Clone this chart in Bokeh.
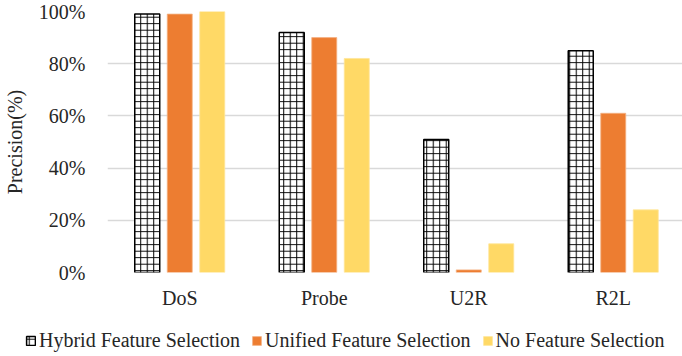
from bokeh.plotting import figure
from bokeh.layouts import column
from bokeh.models import (ColumnDataSource, FactorRange, NumeralTickFormatter, Legend, LegendItem,
                          FixedTicker, Range1d)
from bokeh.transform import dodge
from bokeh.embed import file_html
from bokeh.resources import INLINE

categories = ["DoS", "Probe", "U2R", "R2L"]
hybrid = [0.99, 0.92, 0.51, 0.85]
unified = [0.99, 0.90, 0.01, 0.61]
no_fs = [1.00, 0.82, 0.11, 0.24]
series_names = ["Hybrid Feature Selection", "Unified Feature Selection", "No Feature Selection"]
series_cols = ["hybrid", "unified", "no_fs"]
y_ticks = [0, 0.2, 0.4, 0.6, 0.8, 1.0]

src = ColumnDataSource(dict(cat=categories, hybrid=hybrid, unified=unified, no_fs=no_fs))

FONT = "Liberation Serif"
TXT = "#262626"
FS = "20px"

STYLES = [
    dict(fill_color="white", line_color="black", line_width=1.5,
         hatch_pattern="+", hatch_color="black", hatch_scale=6.5, hatch_weight=1),
    dict(fill_color="#ED7D31", line_color="#F4B183", line_width=0.8),
    dict(fill_color="#FFD966", line_color="#FFE699", line_width=0.8),
]

p = figure(frame_width=578, frame_height=261, x_range=FactorRange(*categories), y_range=(0, 1.0),
           output_backend="svg", toolbar_location=None,
           min_border_left=104, min_border_right=0, min_border_top=11, min_border_bottom=38)
p.outline_line_color = None
p.background_fill_color = "white"

bw = 0.173
offsets = [-0.225, 0.0, 0.225]
for col, st, o in zip(series_cols, STYLES, offsets):
    p.vbar(x=dodge("cat", o, range=p.x_range), top=col, width=bw, source=src, **st)

p.xgrid.grid_line_color = None
p.ygrid.grid_line_color = "#D9D9D9"
p.ygrid.grid_line_width = 1.5
p.yaxis.ticker = FixedTicker(ticks=y_ticks)
p.yaxis.formatter = NumeralTickFormatter(format="0%")

for ax in (p.xaxis[0], p.yaxis[0]):
    ax.axis_line_color = None
    ax.major_tick_line_color = None
    ax.minor_tick_line_color = None
    ax.major_label_text_font = FONT
    ax.major_label_text_font_size = FS
    ax.major_label_text_color = TXT

p.xaxis.major_label_standoff = 8
p.yaxis.major_label_standoff = 16
p.yaxis.axis_label = "Precision(%)"
p.yaxis.axis_label_text_font = FONT
p.yaxis.axis_label_text_font_size = FS
p.yaxis.axis_label_text_font_style = "normal"
p.yaxis.axis_label_text_color = TXT
p.yaxis.axis_label_standoff = 10

# legend strip below the chart (its bars lie outside its y range, only the legend shows)
lg = figure(width=682, height=46, x_range=FactorRange(*categories), y_range=Range1d(2, 3),
            output_backend="svg", toolbar_location=None,
            x_axis_location=None, y_axis_location=None,
            min_border=0, min_border_left=0, min_border_right=0, min_border_top=0, min_border_bottom=0)
lg.outline_line_color = None
lg.xgrid.grid_line_color = None
lg.ygrid.grid_line_color = None
items = []
for name, col, st in zip(series_names, series_cols, STYLES):
    r = lg.vbar(x="cat", top=col, width=0.1, source=src, **st)
    items.append(LegendItem(label=name, renderers=[r]))

for fig in (p, lg):
    try:
        fig.frame_align = False
    except Exception:
        pass

legend = Legend(items=items, orientation="horizontal", location=(25, 5))
legend.label_text_font = FONT
legend.label_text_font_size = FS
legend.label_text_color = TXT
legend.glyph_width = 11
legend.glyph_height = 11
legend.label_standoff = 3
legend.spacing = 11
legend.padding = 4
legend.margin = 0
legend.border_line_color = None
legend.background_fill_alpha = 0
lg.add_layout(legend)

layout = column(p, lg, spacing=0)
open("out.html", "w").write(file_html(layout, INLINE))
